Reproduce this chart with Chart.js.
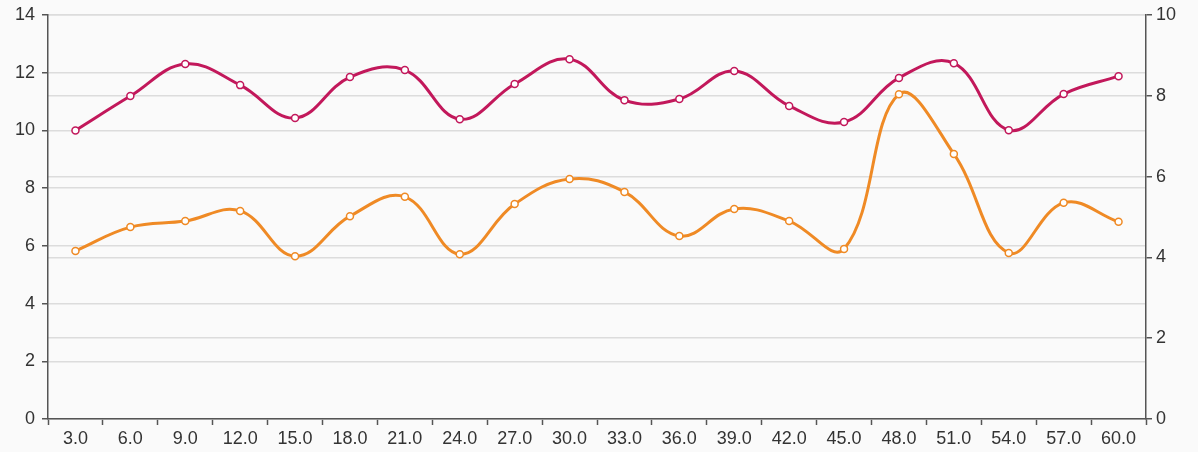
<!DOCTYPE html>
<html>
<head>
<meta charset="utf-8">
<script src="https://cdn.jsdelivr.net/npm/chart.js@4"></script>
<style>
  html, body { margin: 0; padding: 0; background: #fafafa; }
  #wrap { width: 1198px; height: 452px; }
</style>
</head>
<body>
<div id="wrap"><canvas id="myChart"></canvas></div>
<script>
// x categories
const labels = ["3.0","6.0","9.0","12.0","15.0","18.0","21.0","24.0","27.0","30.0",
                "33.0","36.0","39.0","42.0","45.0","48.0","51.0","54.0","57.0","60.0"];
// red series (left axis)
const redValues = [10.0, 11.19, 12.3, 11.57, 10.43, 11.85, 12.09, 10.39, 11.61, 12.47,
                   11.05, 11.09, 12.06, 10.85, 10.29, 11.82, 12.33, 10.01, 11.26, 11.88];
// orange series (right axis)
const orangeValues = [4.16, 4.75, 4.90, 5.15, 4.03, 5.02, 5.50, 4.08, 5.32, 5.94,
                      5.62, 4.53, 5.20, 4.90, 4.21, 8.04, 6.56, 4.11, 5.35, 4.88];

const axisColor = "#555";
const gridColor = "#dcdcdc";
const textColor = "#333";
const tickFont = { family: "'Liberation Sans', Arial, sans-serif", size: 18 };

const ctx = document.getElementById("myChart");
let myChart = new Chart(ctx, {
    type: "line",
    data: {
        labels: labels,
        datasets: [{
            data: redValues,
            yAxisID: "y",
            borderColor: "#c2185b",
            backgroundColor: "#fff",
            borderWidth: 3,
            pointRadius: 3.5,
            pointBorderWidth: 1.5,
            pointBackgroundColor: "#fff",
            tension: 0.4
        }, {
            data: orangeValues,
            yAxisID: "y2",
            borderColor: "#ef8a25",
            backgroundColor: "#fff",
            borderWidth: 3,
            pointRadius: 3.5,
            pointBorderWidth: 1.5,
            pointBackgroundColor: "#fff",
            tension: 0.4
        }]
    },
    options: {
        responsive: true,
        maintainAspectRatio: false,
        animation: false,
        layout: { padding: { top: 15, left: 0, right: 0, bottom: 0 } },
        plugins: {
            legend: { display: false },
            tooltip: { enabled: false }
        },
        scales: {
            x: {
                offset: true,
                afterFit: function (scale) { scale.height = 33; },
                grid: {
                    offset: true,
                    drawOnChartArea: false,
                    drawTicks: true,
                    tickLength: 6,
                    tickColor: axisColor,
                    tickWidth: 1.5
                },
                border: { color: axisColor, width: 1.5 },
                ticks: {
                    color: textColor,
                    padding: 3,
                    maxRotation: 0,
                    autoSkip: false,
                    font: tickFont
                }
            },
            y: {
                position: "left",
                min: 0,
                max: 14,
                afterFit: function (scale) {
                    scale.width = 48;
                    scale.paddingTop = 0;
                    scale.paddingBottom = 0;
                },
                ticks: {
                    stepSize: 2,
                    color: textColor,
                    padding: 7,
                    font: tickFont
                },
                grid: {
                    color: gridColor,
                    lineWidth: 1.5,
                    tickLength: 6,
                    tickColor: axisColor,
                    tickWidth: 1.5
                },
                border: { color: axisColor, width: 1.5 }
            },
            y2: {
                position: "right",
                min: 0,
                max: 10,
                afterFit: function (scale) {
                    scale.width = 52;
                    scale.paddingTop = 0;
                    scale.paddingBottom = 0;
                },
                ticks: {
                    stepSize: 2,
                    color: textColor,
                    padding: 4,
                    font: tickFont
                },
                grid: {
                    color: gridColor,
                    lineWidth: 1.5,
                    tickLength: 6,
                    tickColor: axisColor,
                    tickWidth: 1.5
                },
                border: { color: axisColor, width: 1.5 }
            }
        }
    }
});
</script>
</body>
</html>
